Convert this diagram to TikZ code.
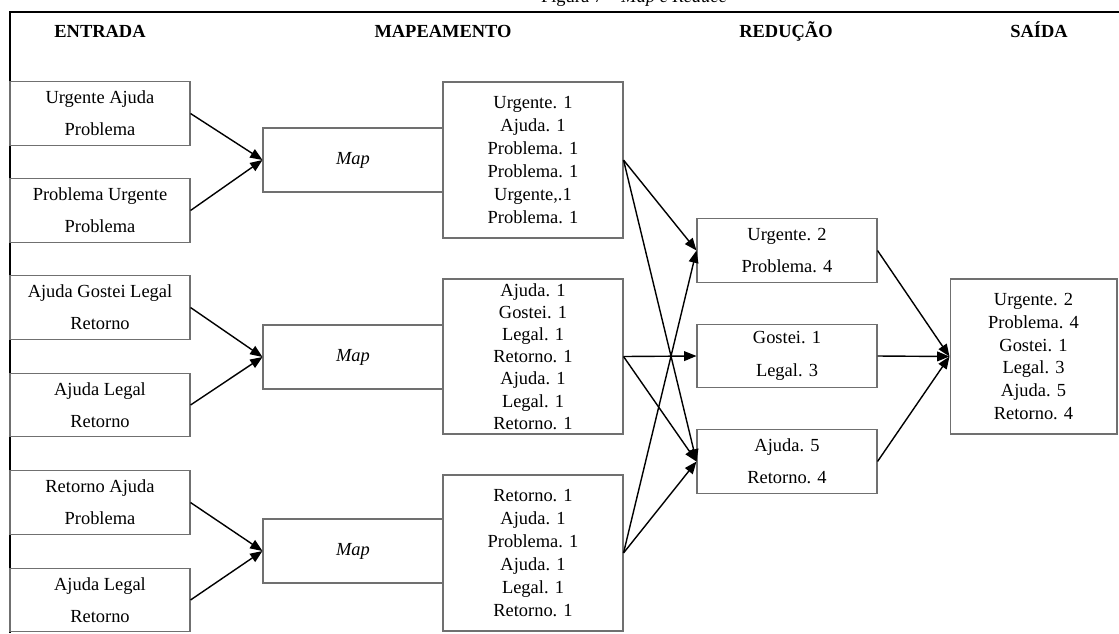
\documentclass[tikz,border=0pt]{standalone}
\usepackage{fontspec}
\setmainfont{Liberation Serif}
\usetikzlibrary{arrows.meta, positioning}
\definecolor{mrGray}{HTML}{707070}
\definecolor{mrBlack}{HTML}{000000}

\tikzset{
  caixa/.style={rectangle, draw=mrGray, line width=0.6pt,
    minimum width=3.6cm, minimum height=1.27cm, inner sep=0pt,
    align=center, font=\fontsize{10.5}{18.4}\selectfont, text=black},
  lista/.style={caixa, minimum height=3.12cm,
    font=\fontsize{10.5}{13}\selectfont},
  cabecalho/.style={anchor=base, font=\fontsize{10.5}{12}\selectfont\bfseries},
  seta/.style={-{Triangle[length=7pt,width=5.5pt]}, line width=0.8pt, draw=mrBlack}
}

\begin{document}
\begin{tikzpicture}[x=0.02cm, y=-0.02cm]
    \useasboundingbox (0,0) rectangle (1119,633);
    % title, cut by the page edge
    \node[anchor=base, font=\fontsize{10.5}{12}\selectfont] (fig) at (634,2)
      {Figura 7 -- \textit{Map e Reduce}};
    \draw[line width=0.9pt] (1119,12) -- (10,12) -- (10,633);

    % headers
    \node[cabecalho] (hEnt) at (100,37) {ENTRADA};
    \node[cabecalho] (hMap) at (443,37) {MAPEAMENTO};
    \node[cabecalho] (hRed) at (786,37) {REDUÇÃO};
    \node[cabecalho] (hSai) at (1039,37) {SAÍDA};

    % input
    \node[caixa] (e1) at (100,113.5) {Urgente Ajuda\\Problema};
    \node[caixa] (e2) at (100,210.5) {Problema Urgente\\Problema};
    \node[caixa] (e3) at (100,307.5) {Ajuda Gostei Legal\\Retorno};
    \node[caixa] (e4) at (100,405) {Ajuda Legal\\Retorno};
    \node[caixa] (e5) at (100,502.5) {Retorno Ajuda\\Problema};
    \node[caixa] (e6) at (100,600) {Ajuda Legal\\Retorno};

    % map
    \node[caixa, minimum height=1.28cm] (map1) at (353,160) {\textit{Map}};
    \node[caixa, minimum height=1.28cm] (map2) at (353,357) {\textit{Map}};
    \node[caixa, minimum height=1.28cm] (map3) at (353,551) {\textit{Map}};

    \node[lista] (l1) at (533,160) {Urgente. 1\\Ajuda. 1\\Problema. 1\\
      Problema. 1\\Urgente,.1\\Problema. 1};
    \node[lista, minimum height=3.1cm, font=\fontsize{10.5}{12.6}\selectfont]
      (l2) at (533,356.5) {Ajuda. 1\\Gostei. 1\\Legal. 1\\Retorno. 1\\
      Ajuda. 1\\Legal. 1\\Retorno. 1};
    \node[lista] (l3) at (533,553) {Retorno. 1\\Ajuda. 1\\Problema. 1\\
      Ajuda. 1\\Legal. 1\\Retorno. 1};

    % reduce
    \node[caixa] (r1) at (787,250.5) {Urgente. 2\\Problema. 4};
    \node[caixa] (r2) at (787,356) {Gostei. 1\\Legal. 3};
    \node[caixa] (r3) at (787,461.5) {Ajuda. 5\\Retorno. 4};

    % output
    \node[lista, minimum width=3.34cm, minimum height=3.1cm] (out)
      at (1033.5,356.5) {Urgente. 2\\Problema. 4\\Gostei. 1\\Legal. 3\\
      Ajuda. 5\\Retorno. 4};

    % arrows
    \draw[seta] (e1.east) -- (map1.west);
    \draw[seta] (e2.east) -- (map1.west);
    \draw[seta] (e3.east) -- (map2.west);
    \draw[seta] (e4.east) -- (map2.west);
    \draw[seta] (e5.east) -- (map3.west);
    \draw[seta] (e6.east) -- (map3.west);

    \draw[seta] (l1.east) -- (r1.west);
    \draw[seta] (l1.east) -- (r3.west);
    \draw[seta] (l2.east) -- (r2.west);
    \draw[seta] (l2.east) -- (r3.west);
    \draw[seta] (l3.east) -- (r1.west);
    \draw[seta] (l3.east) -- (r3.west);

    \draw[seta] (r1.east) -- (out.west);
    \draw[seta] (r2.east) -- (out.west);
    \draw[seta] (r3.east) -- (out.west);
  \end{tikzpicture}
\end{document}
